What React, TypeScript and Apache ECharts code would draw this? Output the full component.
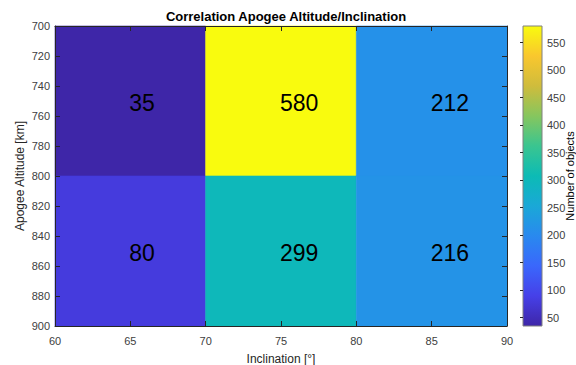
import React, { useEffect, useRef } from "react";
import * as echarts from "echarts";

const inclinationEdges = [60, 70, 80, 90];
const altitudeEdges = [700, 800, 900];
// counts[row][col]: rows = altitude bins (700-800, 800-900), cols = inclination bins
const counts = [
  [35, 580, 212],
  [80, 299, 216],
];
const colorMin = 35;
const colorMax = 580;
const colorbarTicks = [50, 100, 150, 200, 250, 300, 350, 400, 450, 500, 550];
const parula = [
  "#3E26A8", "#4640E8", "#3A67FC", "#2989EF", "#1AA8D7", "#0CBBB5",
  "#3AC590", "#86C65E", "#CFBC3C", "#F9C72E", "#F9FB0E",
];

const FONT = "'Liberation Sans', Arial, Helvetica, sans-serif";
const AX = "#262626";
const LBL = "#404040";

export default function App() {
  const ref = useRef<HTMLDivElement>(null);
  useEffect(() => {
    if (!ref.current) return;
    const chart = echarts.init(ref.current, null, { renderer: "svg" });
    const cells: number[][] = [];
    for (let r = 0; r < counts.length; r++) {
      for (let c = 0; c < counts[r].length; c++) {
        cells.push([
          inclinationEdges[c], inclinationEdges[c + 1],
          altitudeEdges[r], altitudeEdges[r + 1], counts[r][c],
        ]);
      }
    }
    const tickStyle = { inside: true, length: 5, lineStyle: { color: AX, width: 1 } };
    const rev = parula.slice().reverse();
    const gradStops = rev.map((c, i) => ({ offset: i / (rev.length - 1), color: c }));
    chart.setOption({
      animation: false,
      title: {
        text: "Correlation Apogee Altitude/Inclination",
        left: 281, top: 5, textAlign: "center",
        textStyle: { fontFamily: FONT, fontSize: 13, fontWeight: "bold", color: "#000" },
      },
      grid: [
        { left: 55, right: 69, top: 26, bottom: 39, show: false, containLabel: false, outerBoundsMode: "none" },
        { left: 523, right: 34, top: 26, bottom: 39, show: false, containLabel: false, outerBoundsMode: "none" },
      ],
      xAxis: [
        {
          type: "value", gridIndex: 0, min: 60, max: 90, interval: 5, position: "bottom", z: 10,
          name: "Inclination [°]", nameLocation: "middle", nameGap: 27, nameMoveOverlap: false,
          nameTextStyle: { fontFamily: FONT, fontSize: 12, color: AX },
          axisLine: { lineStyle: { color: AX } }, axisTick: tickStyle,
          axisLabel: { fontFamily: FONT, fontSize: 11, color: LBL, margin: 9 },
          splitLine: { show: false },
        },
        {
          type: "value", gridIndex: 0, min: 60, max: 90, interval: 5, position: "top", z: 10,
          axisLine: { lineStyle: { color: AX } }, axisTick: tickStyle,
          axisLabel: { show: false }, splitLine: { show: false },
        },
        {
          type: "value", gridIndex: 1, min: 0, max: 1, show: false,
        },
      ],
      yAxis: [
        {
          type: "value", gridIndex: 0, min: 700, max: 900, interval: 20, inverse: true, z: 10,
          name: "Apogee Altitude [km]", nameLocation: "middle", nameGap: 29, nameMoveOverlap: false,
          nameTextStyle: { fontFamily: FONT, fontSize: 12, color: AX },
          axisLine: { lineStyle: { color: AX } }, axisTick: tickStyle,
          axisLabel: { fontFamily: FONT, fontSize: 11, color: LBL, margin: 5 },
          splitLine: { show: false },
        },
        {
          type: "value", gridIndex: 0, min: 700, max: 900, interval: 20, inverse: true, position: "right", z: 10,
          axisLine: { lineStyle: { color: AX } }, axisTick: tickStyle,
          axisLabel: { show: false }, splitLine: { show: false },
        },
        {
          type: "value", gridIndex: 1, min: colorMin, max: colorMax, position: "right", z: 10,
          name: "Number of objects", nameLocation: "middle", nameGap: 22, nameRotate: 90, nameMoveOverlap: false,
          nameTextStyle: { fontFamily: FONT, fontSize: 11, color: "#000" },
          axisLine: { show: false },
          axisTick: { show: true, inside: true, length: 3, lineStyle: { color: AX }, customValues: colorbarTicks },
          axisLabel: { fontFamily: FONT, fontSize: 11, color: LBL, margin: 5, customValues: colorbarTicks },
          splitLine: { show: false },
        },
      ],
      visualMap: {
        show: false, type: "continuous", min: colorMin, max: colorMax,
        seriesIndex: 0, dimension: 4, inRange: { color: parula },
      },
      series: [
        {
          type: "custom", xAxisIndex: 0, yAxisIndex: 0,
          encode: { x: [0, 1], y: [2, 3] },
          data: cells,
          renderItem: (params: any, api: any) => {
            const p0 = api.coord([api.value(0), api.value(2)]);
            const p1 = api.coord([api.value(1), api.value(3)]);
            const x = Math.min(p0[0], p1[0]);
            const y = Math.min(p0[1], p1[1]);
            const w = Math.abs(p1[0] - p0[0]);
            const h = Math.abs(p1[1] - p0[1]);
            const col = api.visual("color");
            return {
              type: "group",
              children: [
                { type: "rect", shape: { x, y, width: w, height: h }, style: { fill: col, stroke: col, lineWidth: 0.6 } },
                {
                  type: "text",
                  style: {
                    text: String(api.value(4)), x: x + w / 2 - 1, y: y + h / 2 + 2,
                    align: "left", verticalAlign: "middle",
                    fontFamily: FONT, fontSize: 23, fill: "#000",
                  },
                },
              ],
            };
          },
        },
        {
          type: "custom", xAxisIndex: 2, yAxisIndex: 2,
          data: [[0, colorMin, 1, colorMax]],
          renderItem: (params: any, api: any) => {
            const p0 = api.coord([api.value(0), api.value(3)]);
            const p1 = api.coord([api.value(2), api.value(1)]);
            return {
              type: "rect",
              shape: { x: p0[0], y: p0[1], width: p1[0] - p0[0], height: p1[1] - p0[1] },
              style: {
                fill: new echarts.graphic.LinearGradient(0, 0, 0, 1, gradStops),
                stroke: "#808080", lineWidth: 1,
              },
            };
          },
        },
      ],
    });
    return () => chart.dispose();
  }, []);
  return <div ref={ref} style={{ width: 576, height: 365, position: "absolute", left: 0, top: 0 }} />;
}
